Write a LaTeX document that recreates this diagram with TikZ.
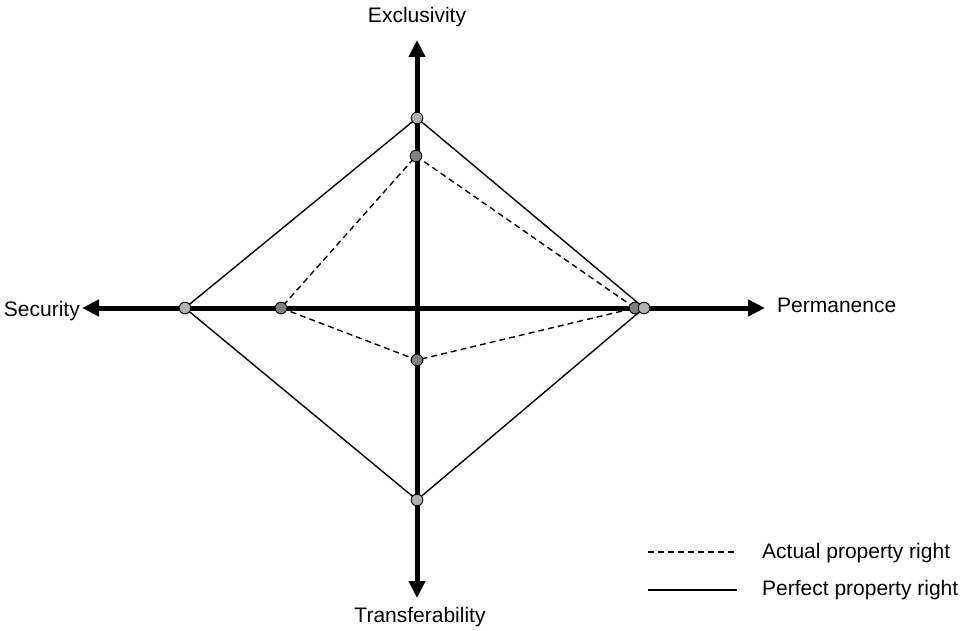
\documentclass[tikz,border=0pt]{standalone}
\usepackage{fontspec}
\setmainfont{Liberation Sans}
\usetikzlibrary{arrows.meta}
\begin{document}
\begin{tikzpicture}[x=1pt,y=-1pt,
  axisline/.style={line width=5pt,-{Triangle[length=17pt,width=16pt]}},
  perfect/.style={line width=1.4pt},
  actual/.style={line width=1.4pt,dash pattern=on 6pt off 4pt},
  pdot/.style={circle,draw=black,line width=0.8pt,fill=black!30,minimum size=11.5pt,inner sep=0pt},
  adot/.style={circle,draw=black,line width=0.8pt,fill=black!50,minimum size=11.5pt,inner sep=0pt},
  lab/.style={font=\fontsize{21}{24}\selectfont,inner sep=0pt}]
\useasboundingbox (0,0) rectangle (975,631);
\coordinate (c) at (417,308);
\coordinate (tN) at (417,40);
\coordinate (tS) at (417,598);
\coordinate (tW) at (82,308);
\coordinate (tE) at (765,308);
\draw[axisline] (c) -- (tN);
\draw[axisline] (c) -- (tS);
\draw[axisline] (c) -- (tW);
\draw[axisline] (c) -- (tE);
% perfect property right
\node[pdot] (pN) at (417,118) {};
\node[pdot] (pE) at (644,308) {};
\node[pdot] (pS) at (417,500) {};
\node[pdot] (pW) at (185,308) {};
% actual property right
\node[adot] (aN) at (416,156) {};
\node[adot] (aE) at (635,308) {};
\node[adot] (aS) at (417,360) {};
\node[adot] (aW) at (281,308) {};
\draw[perfect] (pN.center) -- (pE.center) -- (pS.center) -- (pW.center) -- cycle;
\draw[actual] (aN.center) -- (aE.center) -- (aS.center) -- (aW.center) -- cycle;
\node[adot] at (aN) {};
\node[adot] at (aE) {};
\node[adot] at (aS) {};
\node[adot] at (aW) {};
\node[pdot] at (pN) {};
\node[pdot] at (pE) {};
\node[pdot] at (pS) {};
\node[pdot] at (pW) {};
% labels
\node[lab] (lN) at (417,17) {Exclusivity};
\node[lab] (lS) at (420,617) {Transferability};
\node[lab,anchor=east] (lW) at (80,311) {Security};
\node[lab,anchor=west] (lE) at (777,305) {Permanence};
% legend
\coordinate (l1a) at (648,552);
\coordinate (l1b) at (737,552);
\coordinate (l2a) at (648,590);
\coordinate (l2b) at (737,590);
\draw[actual] (l1a) -- (l1b);
\draw[perfect] (l2a) -- (l2b);
\node[lab,anchor=west] (t1) at (762,553) {Actual property right};
\node[lab,anchor=west] (t2) at (762,590) {Perfect property right};
\end{tikzpicture}
\end{document}
